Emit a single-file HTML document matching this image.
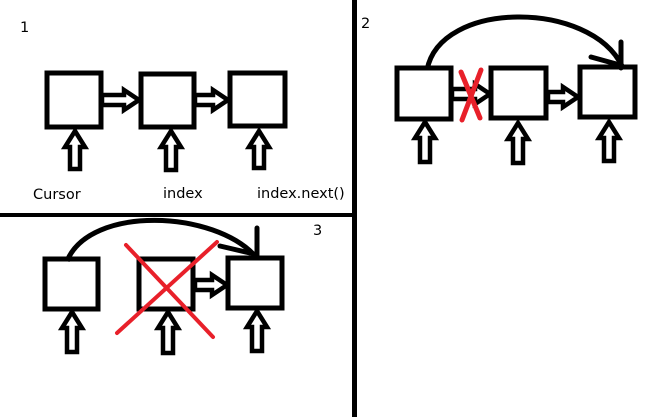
<!DOCTYPE html>
<html><head><meta charset="utf-8"><style>
html,body{margin:0;padding:0;background:#fff;}
svg{display:block;}
text{font-family:"DejaVu Sans","Liberation Sans",sans-serif;font-size:14.5px;fill:#000;}
</style></head><body>
<svg id="c" width="649" height="417" viewBox="0 0 649 417">
<rect x="0" y="0" width="649" height="417" fill="#fff"/>
<rect x="352" y="0" width="5" height="417" fill="#000"/>
<rect x="0" y="213" width="354" height="4" fill="#000"/>
<g id="g"></g>
<text x="20" y="32">1</text>
<text x="361" y="28">2</text>
<text x="313" y="235">3</text>
<text x="33" y="199">Cursor</text>
<text x="163" y="198">index</text>
<text x="257" y="198">index.next()</text>
</svg>
<script>
const NS='http://www.w3.org/2000/svg';
const g=document.getElementById('g');
function mk(tag,attrs,name){const e=document.createElementNS(NS,tag);for(const k in attrs)e.setAttribute(k,attrs[k]);


g.appendChild(e);return e;}
function box(x1,y1,x2,y2,n){mk('rect',{x:x1+2,y:y1+2,width:x2-x1-4,height:y2-y1-4,fill:'#fff',stroke:'#000','stroke-width':5},n);}
function up(cx,t,b,n){const p=[[cx,t],[cx+10,t+16],[cx+5,t+16],[cx+5,b],[cx-5,b],[cx-5,t+16],[cx-10,t+16]];
mk('polygon',{points:p.map(q=>q.join(',')).join(' '),fill:'#fff',stroke:'#000','stroke-width':4.5,'stroke-linejoin':'miter'},n);}
function right(x1,x2,cy,n){const p=[[x1,cy-5],[x2-15,cy-5],[x2-15,cy-10],[x2,cy],[x2-15,cy+10],[x2-15,cy+5],[x1,cy+5]];
mk('polygon',{points:p.map(q=>q.join(',')).join(' '),fill:'#fff',stroke:'#000','stroke-width':4.5},n);}
function line(x1,y1,x2,y2,c,w,n){mk('line',{x1,y1,x2,y2,stroke:c,'stroke-width':w,'stroke-linecap':'round'},n);}
// panel 1
right(102,139,100,'p1-arrow-1-2');right(195,228,100,'p1-arrow-2-3');
box(45,71,103,129,'p1-node-cursor');box(139,72,196,129,'p1-node-index');box(228,71,287,128,'p1-node-next');
up(75,131,169,'p1-pointer-cursor');up(171,131,170,'p1-pointer-index');up(259,131,168,'p1-pointer-next');
// panel 2
right(452,490,94,'p2-arrow-1-2');right(548,578,97,'p2-arrow-2-3');
box(395,66,453,121,'p2-node-1');box(489,66,548,120,'p2-node-2');box(578,65,637,119,'p2-node-3');
mk('path',{d:'M427,70 C440,0 590,0 622,66',fill:'none',stroke:'#000','stroke-width':5},'p2-bypass-arc');
line(621,42,621,68,'#000',5,'p2-arc-tick');line(591,57,620,65,'#000',5,'p2-arc-head');
line(461,72,480,118,'#e8202a',5,'p2-cross-a');line(481,70,462,120,'#e8202a',5,'p2-cross-b');
up(425,122,162,'p2-pointer-1');up(518,123,163,'p2-pointer-2');up(609,122,161,'p2-pointer-3');
// panel 3
right(195,227,285,'p3-arrow-2-3');
box(43,257,100,311,'p3-node-1');box(137,257,195,311,'p3-node-2');box(226,256,284,310,'p3-node-3');
mk('path',{d:'M67,261 C90,205 215,210 256,257',fill:'none',stroke:'#000','stroke-width':5},'p3-bypass-arc');
line(257,228,257,257,'#000',5,'p3-arc-tick');line(220,246,250,253,'#000',5,'p3-arc-head');
line(126,245,213,337,'#e8202a',4,'p3-cross-a');line(117,333,217,242,'#e8202a',4,'p3-cross-b');
up(72,312,352,'p3-pointer-1');up(168,312,353,'p3-pointer-2');up(257,311,351,'p3-pointer-3');
</script>
</body></html>
